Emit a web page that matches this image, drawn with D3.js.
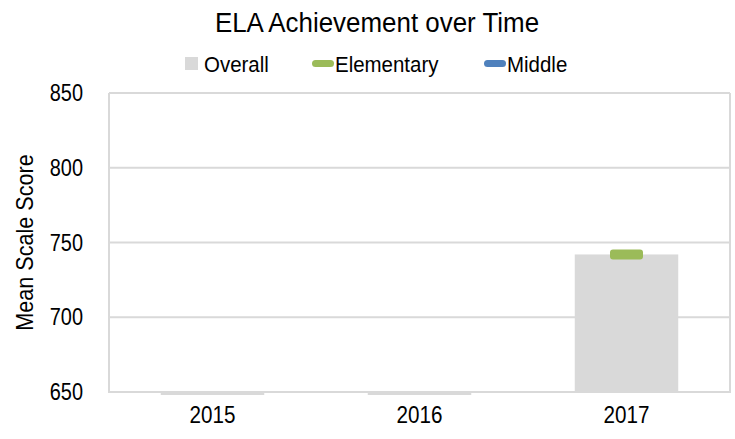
<!DOCTYPE html>
<html>
<head>
<meta charset="utf-8">
<script src="https://cdn.jsdelivr.net/npm/d3@7"></script>
<style>
  body { margin: 0; background: #fff; }
  svg { display: block; font-family: "Liberation Sans", Arial, sans-serif; }
</style>
</head>
<body>
<div id="chart"></div>
<script>
// chart data
const years = ['2015', '2016', '2017'];
const overall = [null, null, 742];
const elementary = [null, null, 742];
const middle = [null, null, null];
const yTicks = [650, 700, 750, 800, 850];

const width = 735, height = 439;
const plot = { left: 109, right: 730, top: 93, bottom: 392 };

// squeeze text horizontally to look like a narrow font
function condense(sel, factor) {
    sel.each(function () {
        const len = this.getComputedTextLength();
        d3.select(this)
            .attr('textLength', len * factor)
            .attr('lengthAdjust', 'spacingAndGlyphs');
    });
}

const svg = d3.select('#chart')
    .append('svg')
    .attr('width', width)
    .attr('height', height);

const x = d3.scaleBand()
    .domain(years)
    .range([plot.left, plot.right])
    .paddingInner(0.5)
    .paddingOuter(0.25);

const y = d3.scaleLinear()
    .domain([650, 850])
    .range([plot.bottom, plot.top]);

// Title
svg.append('text')
    .attr('x', 377)
    .attr('y', 32)
    .attr('text-anchor', 'middle')
    .attr('font-size', '27px')
    .attr('fill', '#000')
    .text('ELA Achievement over Time')
    .call(condense, 0.96);

// Gridlines
svg.append('g')
    .selectAll('line')
    .data(yTicks)
    .join('line')
    .attr('x1', plot.left)
    .attr('x2', plot.right)
    .attr('y1', d => y(d))
    .attr('y2', d => y(d))
    .attr('stroke', '#d9d9d9')
    .attr('stroke-width', 2);

// Bars (missing values show as a thin stub under the axis)
svg.append('g')
    .selectAll('rect')
    .data(years.map((yr, i) => ({ yr, v: overall[i] })))
    .join('rect')
    .attr('x', d => x(d.yr))
    .attr('width', x.bandwidth())
    .attr('y', d => d.v == null ? y(650) : y(d.v))
    .attr('height', d => d.v == null ? 3 : y(650) - y(d.v))
    .attr('fill', '#d9d9d9');

// Plot frame on the left, right and bottom
svg.append('path')
    .attr('d', `M${plot.left},${plot.top}V${plot.bottom}H${plot.right}V${plot.top}`)
    .attr('fill', 'none')
    .attr('stroke', '#d9d9d9')
    .attr('stroke-width', 2);

// Line markers for school levels
const markerW = 33, markerH = 10;
const levelSeries = [
    { name: 'Elementary', values: elementary, color: '#9bbb59' },
    { name: 'Middle', values: middle, color: '#4f81bd' }
];
levelSeries.forEach(s => {
    svg.append('g')
        .selectAll('rect')
        .data(years.map((yr, i) => ({ yr, v: s.values[i] })).filter(d => d.v != null))
        .join('rect')
        .attr('x', d => x(d.yr) + x.bandwidth() / 2 - markerW / 2)
        .attr('y', d => y(d.v) - markerH / 2)
        .attr('width', markerW)
        .attr('height', markerH)
        .attr('rx', 3)
        .attr('fill', s.color);
});

// Y axis labels
const yAxis = svg.append('g')
    .attr('transform', `translate(83,0)`)
    .call(d3.axisLeft(y).tickValues(yTicks).tickSize(0).tickPadding(0));
yAxis.select('.domain').remove();
yAxis.selectAll('text')
    .attr('font-size', '24px')
    .attr('font-family', null)
    .attr('fill', '#000')
    .call(condense, 0.83);

// X axis labels
const xAxis = svg.append('g')
    .attr('transform', `translate(0,${plot.bottom})`)
    .call(d3.axisBottom(x).tickSize(0).tickPadding(14));
xAxis.select('.domain').remove();
xAxis.selectAll('text')
    .attr('font-size', '24px')
    .attr('font-family', null)
    .attr('fill', '#000')
    .call(condense, 0.86);

// Y axis title
svg.append('text')
    .attr('transform', `translate(33,${(plot.top + plot.bottom) / 2}) rotate(-90)`)
    .attr('text-anchor', 'middle')
    .attr('font-size', '24px')
    .attr('fill', '#000')
    .text('Mean Scale Score')
    .call(condense, 0.9);

// Legend
const legend = svg.append('g').attr('font-size', '22px').attr('fill', '#000');
legend.append('rect')
    .attr('x', 185).attr('y', 57)
    .attr('width', 13).attr('height', 13)
    .attr('fill', '#d9d9d9');
legend.append('text').attr('x', 204).attr('y', 72).text('Overall');

const legendX = [312, 484];
levelSeries.forEach((s, i) => {
    legend.append('rect')
        .attr('x', legendX[i]).attr('y', 60)
        .attr('width', 22).attr('height', 7)
        .attr('rx', 3.5)
        .attr('fill', s.color);
    legend.append('text').attr('x', legendX[i] + 23).attr('y', 72).text(s.name);
});
legend.selectAll('text').call(condense, 0.93);
</script>
</body>
</html>
